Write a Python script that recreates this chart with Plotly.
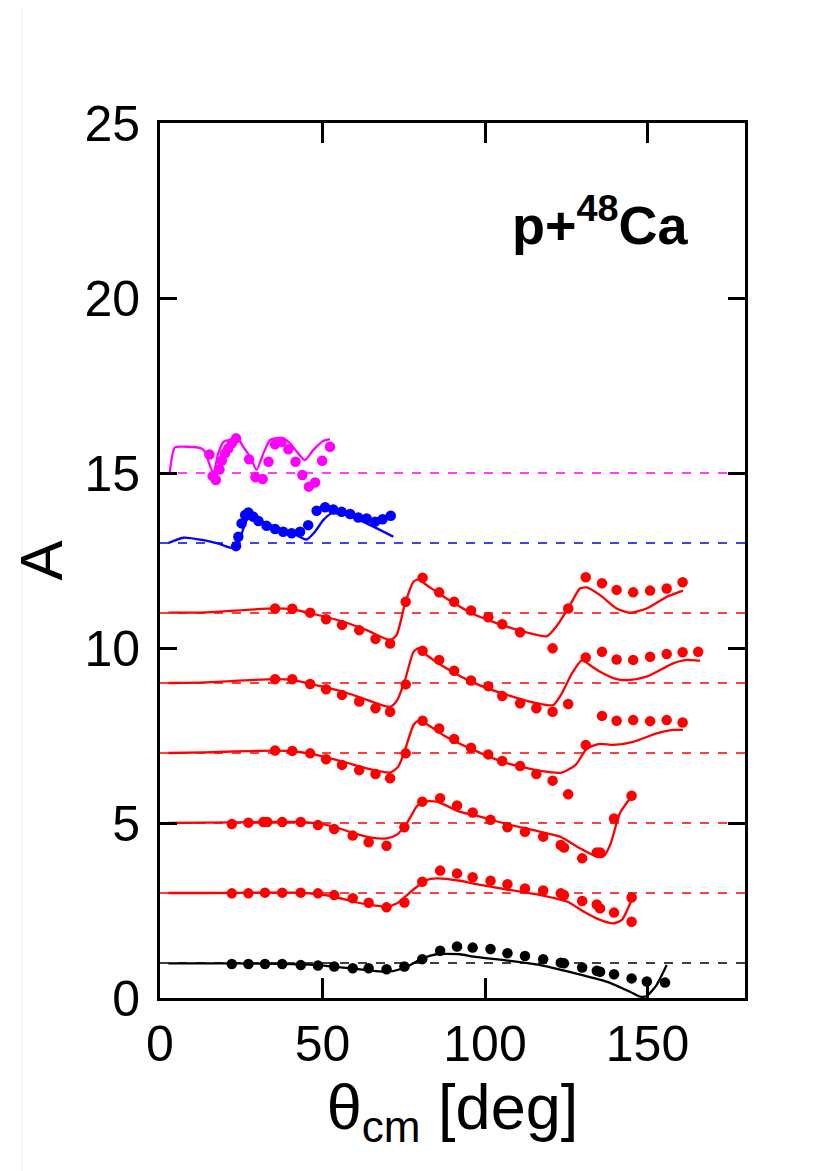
import plotly.graph_objects as go

# ---------------- data ----------------
offsets = [1, 3, 5, 7, 9, 11, 13, 15]
offset_colors = ["black", "red", "red", "red", "red", "red", "blue", "magenta"]

# magenta (offset 15)
th_mag = [15.2, 16.2, 17.2, 18.3, 19.0, 20.0, 21.0, 22.1, 23.4, 27.4, 29.4, 31.6, 33.4, 35.4, 37.4,
          39.5, 41.7, 43.8, 45.8, 47.7, 49.9, 52.3]
A_mag = [15.53, 14.91, 14.80, 15.10, 15.35, 15.56, 15.70, 15.85, 15.99, 15.39, 14.88, 14.83, 15.32,
         15.82, 15.89, 15.68, 15.32, 14.94, 14.61, 14.73, 15.35, 15.75]
th_mag_fit = [3.0, 4.6, 8.0, 12.8, 13.8, 16.4, 17.9, 19.5, 22.1, 23.6, 25.6, 27.7, 29.7, 31.8, 33.8,
              35.4, 37.9, 40.0, 42.1, 44.6, 47.2, 50.3, 52.3]
A_mag_fit = [15.02, 15.73, 15.75, 15.70, 15.61, 14.99, 15.56, 15.89, 15.96, 16.04, 15.75, 15.47, 15.09,
             15.56, 15.94, 15.99, 15.99, 15.85, 15.61, 15.37, 15.66, 15.92, 15.97]

# blue (offset 13)
th_blu = [23.4, 24.1, 25.1, 26.2, 27.2, 28.7, 30.3, 32.8, 35.4, 37.9, 40.5, 43.1, 45.6, 48.2, 50.8,
          53.3, 55.9, 58.5, 61.0, 63.6, 66.2, 68.5, 71.0]
A_blu = [12.91, 13.18, 13.56, 13.80, 13.87, 13.75, 13.63, 13.49, 13.40, 13.32, 13.28, 13.32, 13.51,
         13.92, 14.02, 13.96, 13.89, 13.83, 13.73, 13.70, 13.61, 13.68, 13.78]
th_blu_fit = [2.6, 7.2, 13.3, 18.0, 23.1, 26.7, 28.2, 33.0, 41.0, 45.1, 47.5, 50.3, 52.8, 57.4, 63.6, 71.8]
A_blu_fit = [13.00, 13.15, 13.08, 12.98, 12.85, 13.66, 13.75, 13.55, 13.27, 13.10, 13.30, 13.66, 13.85,
             13.80, 13.56, 13.18]

# red (offset 11)
th_r11 = [35.4, 40.7, 46.2, 51.1, 56.0, 61.3, 66.3, 70.8, 75.6, 80.8, 85.9, 90.5, 95.7, 101.0, 105.3,
          110.8, 120.8, 125.6, 131.0, 136.0, 140.5, 145.6, 150.8, 155.9, 160.8]
A_r11 = [11.13, 11.12, 11.01, 10.82, 10.66, 10.51, 10.26, 10.13, 11.32, 12.01, 11.59, 11.32, 11.07,
         10.88, 10.68, 10.45, 9.99, 11.13, 12.02, 11.85, 11.66, 11.59, 11.64, 11.70, 11.88]
th_r11_fit = [2.6, 14.0, 35.4, 41.0, 46.0, 56.4, 63.6, 70.8, 72.8, 75.4, 78.0, 79.5, 82.0, 87.2, 96.4,
              106.7, 119.0, 121.9, 125.6, 129.2, 131.3, 135.4, 140.5, 144.6, 149.7, 155.9, 160.9]
A_r11_fit = [11.01, 11.02, 11.13, 11.10, 11.00, 10.75, 10.51, 10.23, 10.37, 11.27, 11.89, 11.96, 11.80,
             11.47, 10.97, 10.61, 10.34, 10.61, 11.13, 11.70, 11.73, 11.51, 11.13, 11.01, 11.13, 11.46, 11.64]

# red (offset 9)
th_r9 = [35.4, 40.7, 46.2, 51.1, 56.0, 61.3, 66.3, 70.8, 75.6, 80.8, 85.9, 90.5, 95.7, 101.0, 105.3,
         110.8, 115.8, 120.8, 125.6, 131.0, 136.0, 140.5, 145.6, 150.8, 155.9, 160.8, 165.6]
A_r9 = [9.11, 9.11, 8.97, 8.82, 8.66, 8.47, 8.28, 8.18, 8.96, 9.92, 9.66, 9.35, 9.07, 8.91, 8.63,
        8.42, 8.28, 8.18, 8.40, 9.73, 9.89, 9.67, 9.66, 9.75, 9.83, 9.88, 9.89]
th_r9_fit = [2.6, 14.0, 35.4, 41.0, 46.0, 56.4, 63.6, 70.8, 73.0, 75.4, 78.0, 79.5, 82.0, 87.2, 96.4,
             106.7, 117.0, 121.0, 123.6, 126.8, 129.9, 131.5, 135.4, 140.5, 144.6, 149.7, 157.9, 162.0, 166.2]
A_r9_fit = [9.00, 9.02, 9.11, 9.08, 8.98, 8.75, 8.52, 8.32, 8.51, 9.09, 9.89, 9.99, 9.80, 9.47, 9.01,
            8.66, 8.40, 8.37, 8.70, 9.28, 9.66, 9.56, 9.32, 9.11, 9.09, 9.18, 9.56, 9.66, 9.63]

# red (offset 7)
th_r7 = [35.4, 40.7, 46.2, 51.1, 56.0, 61.3, 66.3, 70.8, 75.6, 80.8, 85.9, 90.5, 95.7, 101.0, 105.3,
         110.8, 115.8, 120.8, 125.6, 131.0, 136.0, 140.5, 145.6, 150.8, 155.9, 160.8]
A_r7 = [7.07, 7.06, 6.99, 6.82, 6.66, 6.51, 6.40, 6.28, 6.99, 7.92, 7.70, 7.40, 7.15, 6.96, 6.77,
        6.63, 6.40, 6.21, 5.82, 7.23, 8.06, 7.92, 7.94, 7.91, 7.94, 7.87]
th_r7_fit = [2.6, 14.0, 35.4, 41.0, 46.0, 56.4, 63.6, 70.8, 73.3, 75.4, 78.0, 79.5, 82.0, 87.2, 96.4,
             106.7, 117.0, 123.6, 127.9, 131.4, 135.4, 139.5, 145.6, 152.8, 157.9, 160.9]
A_r7_fit = [7.00, 7.02, 7.07, 7.05, 6.98, 6.75, 6.56, 6.44, 6.61, 7.09, 7.80, 7.92, 7.83, 7.51, 7.09,
            6.71, 6.49, 6.44, 6.66, 7.13, 7.26, 7.23, 7.32, 7.56, 7.66, 7.66]

# red (offset 5)
th_r5 = [22.1, 27.2, 31.8, 33.0, 37.6, 43.3, 48.6, 53.6, 59.3, 64.2, 69.7, 75.2, 80.7, 86.2, 91.4,
         96.2, 101.7, 106.9, 112.3, 117.9, 123.3, 124.3, 129.9, 134.4, 135.4, 139.7, 145.1]
A_r5 = [4.97, 5.01, 5.03, 5.03, 5.03, 5.03, 4.94, 4.83, 4.64, 4.45, 4.35, 4.88, 5.61, 5.71, 5.50,
        5.30, 5.09, 4.88, 4.75, 4.61, 4.37, 4.30, 3.99, 4.16, 4.16, 5.13, 5.78]
th_r5_fit = [2.6, 14.0, 33.0, 41.0, 48.2, 53.3, 59.5, 64.6, 69.7, 72.8, 75.9, 79.0, 81.0, 85.1, 92.3,
             96.4, 106.7, 117.0, 123.1, 129.2, 134.4, 136.4, 138.5, 141.5, 144.6]
A_r5_fit = [5.00, 5.01, 5.03, 5.03, 4.99, 4.90, 4.71, 4.59, 4.56, 4.66, 4.99, 5.47, 5.61, 5.61, 5.32,
            5.23, 4.97, 4.75, 4.61, 4.28, 4.04, 4.04, 4.37, 5.28, 5.70]

# red (offset 3)
th_r3 = [22.1, 27.2, 32.3, 37.6, 43.3, 48.6, 53.6, 59.3, 64.2, 69.7, 75.2, 80.7, 86.2, 91.4, 96.2,
         101.7, 106.9, 112.3, 117.9, 123.3, 124.3, 129.9, 134.4, 135.4, 139.7, 145.1, 145.1]
A_r3 = [2.99, 2.99, 3.01, 3.01, 3.01, 2.99, 2.94, 2.85, 2.72, 2.59, 2.73, 3.32, 3.64, 3.56, 3.45,
        3.35, 3.25, 3.13, 3.07, 2.99, 2.94, 2.77, 2.67, 2.56, 2.44, 2.87, 2.18]
th_r3_fit = [2.6, 14.0, 33.0, 41.0, 48.2, 53.3, 59.5, 64.6, 69.7, 72.8, 78.0, 82.0, 85.1, 92.3, 96.4,
             106.7, 117.0, 125.4, 130.3, 135.4, 139.5, 142.1, 145.1]
A_r3_fit = [3.00, 3.00, 3.01, 3.01, 2.97, 2.90, 2.75, 2.66, 2.61, 2.70, 3.10, 3.37, 3.42, 3.35, 3.27,
            3.10, 2.94, 2.75, 2.47, 2.23, 2.13, 2.23, 2.80]

# black (offset 1)
th_blk = [22.1, 27.2, 32.3, 37.6, 43.3, 48.6, 53.6, 59.3, 64.2, 69.7, 75.2, 80.7, 86.2, 91.4, 96.2,
          101.7, 106.9, 112.3, 117.9, 123.3, 124.3, 129.9, 134.4, 135.4, 139.7, 145.1, 149.8, 155.4]
A_blk = [0.97, 0.97, 0.97, 0.97, 0.94, 0.93, 0.90, 0.85, 0.85, 0.82, 0.90, 1.11, 1.35, 1.47, 1.44,
         1.40, 1.28, 1.20, 1.11, 1.01, 0.99, 0.87, 0.78, 0.75, 0.68, 0.56, 0.47, 0.44]
th_blk_fit = [2.6, 14.0, 33.0, 48.2, 61.5, 69.7, 74.9, 81.0, 85.1, 92.3, 96.4, 106.7, 117.0, 127.2,
              137.4, 144.6, 147.7, 149.8, 152.8, 155.9]
A_blk_fit = [0.99, 0.99, 0.98, 0.94, 0.82, 0.75, 0.85, 1.14, 1.25, 1.25, 1.18, 1.07, 0.94, 0.72,
             0.47, 0.18, 0.04, 0.06, 0.37, 0.94]

x_ticks = [0, 50, 100, 150]
y_ticks = [0, 5, 10, 15, 20, 25]
x_range = [0, 180]
y_range = [0, 25]

# ---------------- figure ----------------
fig = go.Figure()

# dashed reference lines
for off, col in zip(offsets, offset_colors):
    fig.add_trace(go.Scatter(x=x_range, y=[off, off], mode="lines",
                             line=dict(color=col, width=1.5, dash="dash"),
                             hoverinfo="skip", showlegend=False))

series = [
    (th_blk_fit, A_blk_fit, th_blk, A_blk, "black"),
    (th_r3_fit, A_r3_fit, th_r3, A_r3, "red"),
    (th_r5_fit, A_r5_fit, th_r5, A_r5, "red"),
    (th_r7_fit, A_r7_fit, th_r7, A_r7, "red"),
    (th_r9_fit, A_r9_fit, th_r9, A_r9, "red"),
    (th_r11_fit, A_r11_fit, th_r11, A_r11, "red"),
    (th_blu_fit, A_blu_fit, th_blu, A_blu, "blue"),
    (th_mag_fit, A_mag_fit, th_mag, A_mag, "magenta"),
]
for xf, yf, xd, yd, col in series:
    fig.add_trace(go.Scatter(x=xf, y=yf, mode="lines",
                             line=dict(color=col, width=2.3, shape="spline", smoothing=0.6),
                             showlegend=False))
    fig.add_trace(go.Scatter(x=xd, y=yd, mode="markers",
                             marker=dict(color=col, size=10.5, line=dict(width=0)),
                             showlegend=False))

fig.add_annotation(x=135.4, y=22.2, xref="x", yref="y",
                   text="<b>p+<sup>48</sup>Ca</b>", showarrow=False,
                   font=dict(size=54, color="black", family="Liberation Sans, Arial"))

axis_font = dict(size=50, color="black", family="Liberation Sans, Arial")
fig.update_xaxes(range=x_range, tickvals=x_ticks, ticks="inside", ticklen=20, tickwidth=3,
                 tickcolor="black", showline=True, linewidth=3, linecolor="black", mirror="ticks",
                 showgrid=False, zeroline=False, tickfont=axis_font,
                 title=dict(text="θ<sub>cm</sub> [deg]", font=dict(size=63, color="black",
                                                                      family="Liberation Sans, Arial"),
                            standoff=3))
fig.update_yaxes(range=y_range, tickvals=y_ticks, ticks="inside", ticklen=17, tickwidth=3,
                 tickcolor="black", showline=True, linewidth=3, linecolor="black", mirror="ticks",
                 showgrid=False, zeroline=False, tickfont=axis_font, ticklabelstandoff=7,
                 title=dict(text="A", font=dict(size=60, color="black",
                                                family="Liberation Sans, Arial"),
                            standoff=4))

fig.add_shape(type="line", xref="paper", yref="paper", x0=-0.236, x1=-0.236, y0=-0.25, y1=1.15,
              line=dict(color="#eeeeee", width=1))

fig.update_layout(width=825, height=1171, margin=dict(l=152, r=88, t=115, b=181),
                  plot_bgcolor="white", paper_bgcolor="white")

fig.write_html("out.html")
